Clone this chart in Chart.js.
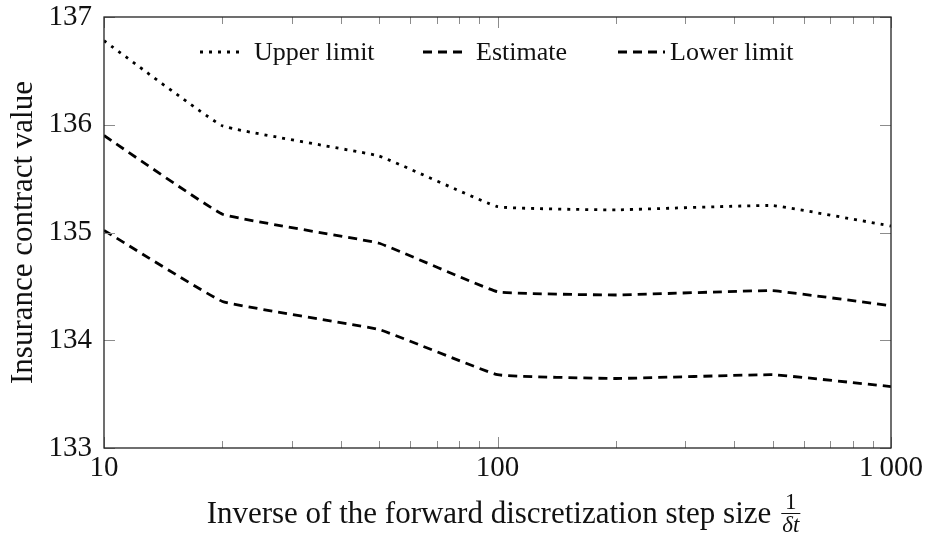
<!DOCTYPE html>
<html>
<head>
<meta charset="utf-8">
<script src="https://cdn.jsdelivr.net/npm/chart.js@4/dist/chart.umd.min.js"></script>
<style>
  html, body { margin: 0; padding: 0; background: #fff; }
  #wrap { width: 925px; height: 536px; }
</style>
</head>
<body>
<div id="wrap"><canvas id="c" width="925" height="536"></canvas></div>
<script>
// Inverse step size values (log axis)
const stepInverse = [10, 20, 50, 100, 200, 500, 1000];
// Contract value: confidence band and point estimate
const upperLimit = [136.78, 135.99, 135.71, 135.24, 135.21, 135.25, 135.06];
const estimate   = [135.90, 135.17, 134.90, 134.45, 134.42, 134.46, 134.32];
const lowerLimit = [135.02, 134.36, 134.10, 133.68, 133.645, 133.68, 133.57];

const seriesNames = ['Upper limit', 'Estimate', 'Lower limit'];
const xMajorTicks = [10, 100, 1000];
const xMinorTicks = [20, 30, 40, 50, 60, 70, 80, 90, 200, 300, 400, 500, 600, 700, 800, 900];
const yTicks = [133, 134, 135, 136, 137];
const xTitle = 'Inverse of the forward discretization step size';
const yTitle = 'Insurance contract value';

const SERIF = '"Liberation Serif", "DejaVu Serif", serif';
const DOT = [3, 6];
const DASH = [9, 6];

function pts(ys) { return stepInverse.map((x, i) => ({ x: x, y: ys[i] })); }

function fmtTick(v) {
  const s = String(v);
  return s.length > 3 ? s.slice(0, s.length - 3) + '\u2009' + s.slice(-3) : s;
}

// Frame, inward ticks, legend and axis titles
const decorations = {
  id: 'decorations',
  afterDatasetsDraw(chart) {
    const ctx = chart.ctx;
    const a = chart.chartArea;
    const xs = chart.scales.x, ys = chart.scales.y;
    ctx.save();

    // inward tick marks
    ctx.strokeStyle = '#8c8c8c';
    ctx.lineWidth = 1;
    ctx.setLineDash([]);
    ctx.beginPath();
    const xt = (v, len) => {
      const px = Math.round(xs.getPixelForValue(v)) + 0.5;
      ctx.moveTo(px, a.bottom); ctx.lineTo(px, a.bottom - len);
      ctx.moveTo(px, a.top); ctx.lineTo(px, a.top + len);
    };
    xMajorTicks.forEach(v => xt(v, 11));
    xMinorTicks.forEach(v => xt(v, 7));
    yTicks.forEach(v => {
      const py = Math.round(ys.getPixelForValue(v)) + 0.5;
      ctx.moveTo(a.left, py); ctx.lineTo(a.left + 11, py);
      ctx.moveTo(a.right, py); ctx.lineTo(a.right - 11, py);
    });
    ctx.stroke();

    // frame
    ctx.strokeStyle = '#222';
    ctx.lineWidth = 1.3;
    ctx.strokeRect(a.left, a.top, a.right - a.left, a.bottom - a.top);

    // legend
    const legendY = 52;
    const items = [
      { dash: DOT, x0: 200, x1: 244, tx: 254 },
      { dash: DASH, x0: 423, x1: 464, tx: 476 },
      { dash: DASH, x0: 618, x1: 665, tx: 670 }
    ];
    ctx.font = '26px ' + SERIF;
    ctx.fillStyle = '#111';
    ctx.textBaseline = 'middle';
    ctx.textAlign = 'left';
    items.forEach((it, i) => {
      ctx.strokeStyle = '#000';
      ctx.lineWidth = 2.8;
      ctx.lineCap = 'butt';
      ctx.setLineDash(it.dash);
      ctx.beginPath();
      ctx.moveTo(it.x0, legendY); ctx.lineTo(it.x1, legendY);
      ctx.stroke();
      ctx.fillText(seriesNames[i], it.tx, legendY + 1);
    });
    ctx.setLineDash([]);

    // y axis title
    ctx.save();
    ctx.translate(32, (a.top + a.bottom) / 2);
    ctx.rotate(-Math.PI / 2);
    ctx.font = '31px ' + SERIF;
    ctx.textAlign = 'center';
    ctx.textBaseline = 'alphabetic';
    ctx.fillStyle = '#111';
    ctx.fillText(yTitle, 0, 0);
    ctx.restore();

    // x axis title with fraction 1/δt
    ctx.font = '31px ' + SERIF;
    const tw = ctx.measureText(xTitle).width;
    ctx.font = 'italic 23px ' + SERIF;
    const dw = ctx.measureText('\u03B4t').width;
    const gap = 11;
    const total = tw + gap + dw;
    const cx = 503;
    const base = 523;
    const x0 = cx - total / 2;
    ctx.font = '31px ' + SERIF;
    ctx.textAlign = 'left';
    ctx.textBaseline = 'alphabetic';
    ctx.fillStyle = '#111';
    ctx.fillText(xTitle, x0, base);
    const fx = x0 + tw + gap;
    const fc = fx + dw / 2;
    ctx.textAlign = 'center';
    ctx.font = '23px ' + SERIF;
    ctx.fillText('1', fc, 509);
    ctx.font = 'italic 23px ' + SERIF;
    ctx.fillText('\u03B4t', fc, 532);
    ctx.strokeStyle = '#111';
    ctx.lineWidth = 1;
    ctx.beginPath();
    ctx.moveTo(fx - 1, 513.5); ctx.lineTo(fx + dw + 1, 513.5);
    ctx.stroke();

    ctx.restore();
  }
};

const lineStyle = (ys, dash, label) => ({
  label: label,
  data: pts(ys),
  borderColor: '#000',
  borderWidth: 2.8,
  borderDash: dash,
  borderCapStyle: 'butt',
  pointRadius: 0,
  fill: false,
  tension: 0.08
});

new Chart(document.getElementById('c'), {
  type: 'line',
  data: {
    datasets: [
      lineStyle(upperLimit, DOT, seriesNames[0]),
      lineStyle(estimate, DASH, seriesNames[1]),
      lineStyle(lowerLimit, DASH, seriesNames[2])
    ]
  },
  options: {
    responsive: false,
    animation: false,
    devicePixelRatio: 1,
    layout: { padding: { top: 17, right: 34, left: 0, bottom: 0 } },
    plugins: { legend: { display: false }, tooltip: { enabled: false } },
    scales: {
      x: {
        type: 'logarithmic',
        min: 10,
        max: 1000,
        grid: { display: false, drawTicks: false },
        border: { display: false },
        afterBuildTicks: s => { s.ticks = xMajorTicks.map(v => ({ value: v })); },
        afterFit: s => { s.height = 88; s.paddingLeft = 0; s.paddingRight = 0; },
        ticks: {
          autoSkip: false,
          maxRotation: 0,
          padding: 3,
          color: '#111',
          font: { family: SERIF, size: 29 },
          callback: v => fmtTick(v)
        }
      },
      y: {
        type: 'linear',
        min: 133,
        max: 137,
        grid: { display: false, drawTicks: false },
        border: { display: false },
        afterBuildTicks: s => { s.ticks = yTicks.map(v => ({ value: v })); },
        afterFit: s => { s.width = 104; s.paddingTop = 0; s.paddingBottom = 0; },
        ticks: {
          padding: 12,
          color: '#111',
          font: { family: SERIF, size: 29 },
          callback: v => String(v)
        }
      }
    }
  },
  plugins: [decorations]
});
</script>
</body>
</html>
